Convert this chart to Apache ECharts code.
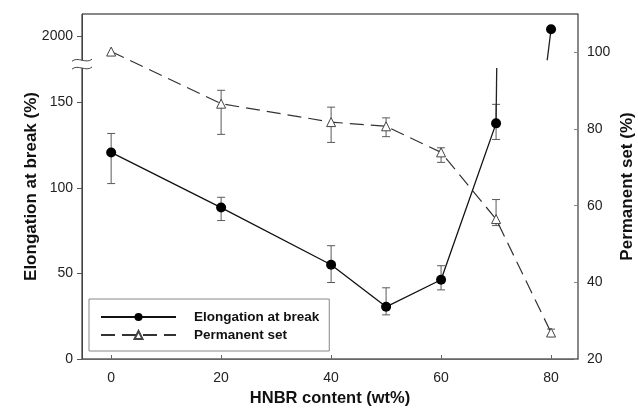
<!DOCTYPE html>
<html>
<head>
<meta charset="utf-8">
<script src="https://cdn.jsdelivr.net/npm/echarts@6/dist/echarts.min.js"></script>
<style>
  html, body { margin: 0; padding: 0; background: #fff; }
  #chart { width: 638px; height: 413px; }
</style>
</head>
<body>
<div id="chart"></div>
<script>
// HNBR content (wt%)
const hnbr = [0, 20, 40, 50, 60, 70, 80];

// Elongation at break (%) with error bar limits
const elongation = [120.7, 88.5, 55.1, 30.5, 46.3, 137.7, 2040];
const elongationHigh = [131.8, 94.5, 66.2, 41.6, 54.5, 148.8, null];
const elongationLow = [102.5, 80.9, 44.7, 25.8, 40.4, 128.3, null];

// Permanent set (%) with error bar limits
const permanentSet = [100.2, 86.6, 81.8, 80.7, 73.9, 56.5, 26.9];
const permanentSetHigh = [null, 90.1, 85.7, 82.9, 75.1, 61.6, 27.8];
const permanentSetLow = [null, 78.6, 76.5, 78.0, 71.3, 54.8, 26.2];

// Tick labels
const xTicks = [0, 20, 40, 60, 80];
const leftTicks = [0, 50, 100, 150, 2000];
const rightTicks = [20, 40, 60, 80, 100];

// Broken left axis: linear up to the break, compressed segment above it
const BREAK_LOW = 170;      // where the lower segment ends (axis units)
const BREAK_HIGH = 174.6;   // where the upper segment starts
const UPPER_ANCHOR = 188.7; // axis position of the 2000 label
const UPPER_SCALE = 10;     // real units per axis unit above the break
function toAxis(v) {
  return v <= BREAK_HIGH ? v : UPPER_ANCHOR + (v - 2000) / UPPER_SCALE;
}
function fromAxis(a) {
  return Math.abs(a - UPPER_ANCHOR) < 0.01 ? 2000 : a;
}

const last = hnbr.length - 1;
// main elongation line, interrupted across the axis break
const elongLine = [];
hnbr.forEach((x, i) => {
  if (i === last) elongLine.push([(hnbr[i - 1] + x) / 2, '-']);
  elongLine.push([x, toAxis(elongation[i])]);
});
// short stubs leaving the 70 % point and reaching the 80 % point
const stubLow = [[hnbr[last - 1], toAxis(elongation[last - 1])], [hnbr[last - 1] + 0.12, BREAK_LOW]];
const stubHigh = [[hnbr[last] - 0.7, BREAK_HIGH], [hnbr[last], toAxis(elongation[last])]];

const elongErr = hnbr.map((x, i) => [x, elongationLow[i], elongationHigh[i]]).filter(d => d[1] != null);
const permErr = hnbr.map((x, i) => [x, permanentSetLow[i], permanentSetHigh[i]]).filter(d => d[1] != null);
const permLine = hnbr.map((x, i) => [x, permanentSet[i]]);

function errorBars(api) {
  const x = api.value(0);
  const lo = api.coord([x, api.value(1)]);
  const hi = api.coord([x, api.value(2)]);
  const cap = 4;
  const style = { stroke: '#5a5a5a', lineWidth: 1 };
  return {
    type: 'group',
    children: [
      { type: 'line', shape: { x1: lo[0], y1: lo[1], x2: hi[0], y2: hi[1] }, style },
      { type: 'line', shape: { x1: hi[0] - cap, y1: hi[1], x2: hi[0] + cap, y2: hi[1] }, style },
      { type: 'line', shape: { x1: lo[0] - cap, y1: lo[1], x2: lo[0] + cap, y2: lo[1] }, style }
    ]
  };
}

const FONT = 'Liberation Sans, Arial, sans-serif';
const X_MIN = -5.3, X_MAX = 84.9;
const chart = echarts.init(document.getElementById('chart'), null, { renderer: 'canvas' });

chart.setOption({
  animation: false,
  backgroundColor: '#fff',
  grid: {
    left: 82, right: 60, top: 14, bottom: 54,
    outerBoundsMode: 'none', containLabel: false,
    show: true, borderColor: '#111', borderWidth: 1
  },
  legend: {
    data: ['Elongation at break', 'Permanent set'],
    orient: 'vertical',
    left: 89, top: 299,
    padding: [11, 10, 9, 11],
    itemGap: 4,
    itemWidth: 75, itemHeight: 10,
    borderColor: '#888', borderWidth: 1,
    textStyle: { fontFamily: FONT, fontWeight: 'bold', fontSize: 13.5, color: '#111', padding: [0, 0, 0, 13] }
  },
  xAxis: {
    type: 'value', min: X_MIN, max: X_MAX,
    name: 'HNBR content (wt%)', nameLocation: 'middle', nameGap: 31, nameMoveOverlap: false,
    nameTextStyle: { fontFamily: FONT, fontWeight: 'bold', fontSize: 16.5, color: '#111' },
    axisLine: { onZero: false, lineStyle: { color: '#666' } },
    axisTick: { inside: true, length: 4, customValues: xTicks, lineStyle: { color: '#666' } },
    axisLabel: { customValues: xTicks, margin: 12, fontFamily: FONT, fontSize: 14, color: '#222' },
    splitLine: { show: false }
  },
  yAxis: [
    {
      type: 'value', min: 0, max: 201.6, position: 'left',
      name: 'Elongation at break (%)', nameLocation: 'middle', nameGap: 42, nameRotate: 90,
      nameMoveOverlap: false,
      nameTextStyle: { fontFamily: FONT, fontWeight: 'bold', fontSize: 17, color: '#111' },
      axisLine: { show: true, onZero: false, lineStyle: { color: '#444' } },
      axisTick: { show: true, length: 5, customValues: leftTicks.map(toAxis), lineStyle: { color: '#555' } },
      axisLabel: {
        customValues: leftTicks.map(toAxis), margin: 9,
        fontFamily: FONT, fontSize: 14, color: '#222',
        formatter: v => String(Math.round(fromAxis(v)))
      },
      splitLine: { show: false }
    },
    {
      type: 'value', min: 20, max: 110, position: 'right',
      name: 'Permanent set (%)', nameLocation: 'middle', nameGap: 41, nameRotate: 90,
      nameMoveOverlap: false,
      nameTextStyle: { fontFamily: FONT, fontWeight: 'bold', fontSize: 17, color: '#111' },
      axisLine: { show: true, onZero: false, lineStyle: { color: '#888' } },
      axisTick: { show: true, inside: true, length: 4, customValues: rightTicks, lineStyle: { color: '#888' } },
      axisLabel: { customValues: rightTicks, margin: 9, fontFamily: FONT, fontSize: 14, color: '#222' },
      splitLine: { show: false }
    }
  ],
  series: [
    {
      name: 'elongation-error', type: 'custom', yAxisIndex: 0, data: elongErr,
      renderItem: (params, api) => errorBars(api), z: 2, silent: true
    },
    {
      name: 'permanent-error', type: 'custom', yAxisIndex: 1, data: permErr,
      renderItem: (params, api) => errorBars(api), z: 2, silent: true
    },
    {
      name: 'Permanent set', type: 'line', yAxisIndex: 1, data: permLine,
      symbol: 'triangle', symbolSize: 9, showSymbol: true,
      lineStyle: { color: '#333', width: 1.2, type: [14, 7] },
      itemStyle: { color: '#fff', borderColor: '#444', borderWidth: 1 },
      z: 3
    },
    {
      name: 'Elongation at break', type: 'line', yAxisIndex: 0, data: elongLine,
      connectNulls: false, symbol: 'circle', symbolSize: 10, showSymbol: true,
      lineStyle: { color: '#111', width: 1.3 },
      itemStyle: { color: '#000' },
      z: 4
    },
    {
      name: 'stub-low', type: 'line', yAxisIndex: 0, data: stubLow, showSymbol: false,
      lineStyle: { color: '#222', width: 1.3 }, z: 3, silent: true
    },
    {
      name: 'stub-high', type: 'line', yAxisIndex: 0, data: stubHigh, showSymbol: false,
      lineStyle: { color: '#222', width: 1.3 }, z: 3, silent: true
    }
  ]
});

// Axis-break mark on the left axis
function drawBreak() {
  const lo = chart.convertToPixel({ yAxisIndex: 0 }, BREAK_LOW);
  const hi = chart.convertToPixel({ yAxisIndex: 0 }, BREAK_HIGH);
  const ax = chart.convertToPixel({ xAxisIndex: 0 }, X_MIN);
  const wave = (y) => ({
    type: 'bezierCurve',
    shape: { x1: ax - 10, y1: y + 1, cpx1: ax - 4, cpy1: y - 4, cpx2: ax + 4, cpy2: y + 4, x2: ax + 10, y2: y - 1 },
    style: { stroke: '#444', lineWidth: 1, fill: null }, z: 100
  });
  chart.setOption({
    graphic: [
      { type: 'rect', shape: { x: ax - 3, y: hi, width: 6, height: lo - hi }, style: { fill: '#fff' }, z: 99 },
      wave(hi), wave(lo)
    ]
  });
}
drawBreak();
</script>
</body>
</html>
